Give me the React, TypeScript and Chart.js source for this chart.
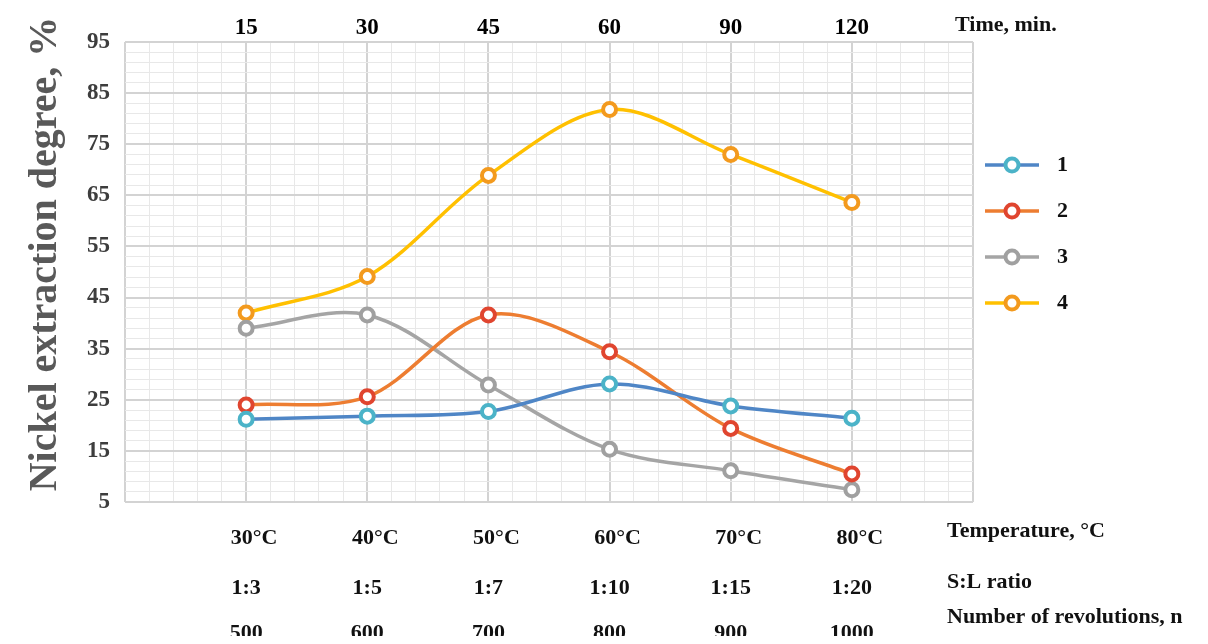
import { useEffect, useRef } from "react";
import { Chart, registerables } from "chart.js";

Chart.register(...registerables);

// Column labels shared by every series
const timeLabels = ["15", "30", "45", "60", "90", "120"];
const temperatureLabels = ["30°C", "40°C", "50°C", "60°C", "70°C", "80°C"];
const ratioLabels = ["1:3", "1:5", "1:7", "1:10", "1:15", "1:20"];
const revolutionLabels = ["500", "600", "700", "800", "900", "1000"];

// Nickel extraction degree, %
const seriesNames = ["1", "2", "3", "4"];
const series1 = [21.2, 21.8, 22.7, 28.1, 23.8, 21.4];
const series2 = [24.0, 25.6, 41.6, 34.4, 19.4, 10.5];
const series3 = [39.0, 41.6, 27.9, 15.3, 11.1, 7.4];
const series4 = [42.0, 49.1, 68.9, 81.8, 73.0, 63.6];

const lineColors = ["#4f86c6", "#ed7d31", "#a5a5a5", "#ffc000"];
const markerColors = ["#4bb3c8", "#e0452f", "#a0a0a0", "#f39a1e"];

const SERIF = "'Liberation Serif', 'Times New Roman', serif";
const POINT_RADIUS = 6.5;
const POINT_BORDER = 4;

const isWhole = (v: number) => Math.abs(v - Math.round(v)) < 1e-6;

// Extra captions: side labels, bottom rows, y title and the legend
const captionsPlugin = {
  id: "captions",
  afterDraw(chart: any) {
    const { ctx, scales } = chart;
    const xs = scales.x;
    const font = (size: number) => `bold ${size}px ${SERIF}`;
    ctx.save();

    // Y axis title
    ctx.save();
    ctx.translate(48, 246);
    ctx.rotate(-Math.PI / 2);
    ctx.font = font(40);
    ctx.fillStyle = "#595959";
    ctx.textAlign = "center";
    ctx.textBaseline = "alphabetic";
    ctx.fillText("Nickel extraction degree, %", 0, 0);
    ctx.restore();

    ctx.fillStyle = "#111";
    ctx.textBaseline = "middle";

    // Top axis caption
    ctx.font = font(22);
    ctx.textAlign = "left";
    ctx.fillText("Time, min.", 947, 17);

    // Bottom rows of condition labels
    const rows = [
      { labels: temperatureLabels, y: 530, dx: 8, caption: "Temperature, °C", cy: 523 },
      { labels: ratioLabels, y: 580, dx: 0, caption: "S:L ratio", cy: 574 },
      { labels: revolutionLabels, y: 625, dx: 0, caption: "Number of revolutions, n", cy: 609 },
    ];
    rows.forEach((row) => {
      ctx.font = font(22);
      ctx.textAlign = "center";
      row.labels.forEach((lab, i) => {
        ctx.fillText(lab, xs.getPixelForValue(i + 1) + row.dx, row.y);
      });
      ctx.font = font(22);
      ctx.textAlign = "left";
      ctx.fillText(row.caption, 939, row.cy);
    });

    // Legend
    const lx0 = 977;
    const lx1 = 1031;
    const lxm = (lx0 + lx1) / 2;
    chart.data.datasets.forEach((ds: any, i: number) => {
      const y = 157 + i * 46;
      ctx.strokeStyle = ds.borderColor;
      ctx.lineWidth = 3.5;
      ctx.beginPath();
      ctx.moveTo(lx0, y);
      ctx.lineTo(lx1, y);
      ctx.stroke();
      ctx.beginPath();
      ctx.arc(lxm, y, POINT_RADIUS, 0, Math.PI * 2);
      ctx.fillStyle = "#fff";
      ctx.fill();
      ctx.lineWidth = POINT_BORDER;
      ctx.strokeStyle = ds.pointBorderColor;
      ctx.stroke();
      ctx.fillStyle = "#111";
      ctx.font = font(22);
      ctx.textAlign = "left";
      ctx.fillText(ds.label, 1049, y);
    });

    ctx.restore();
  },
};

export default function App() {
  const canvasRef = useRef<HTMLCanvasElement | null>(null);

  useEffect(() => {
    const canvas = canvasRef.current;
    if (!canvas) return;
    const values = [series1, series2, series3, series4];

    const chart = new Chart(canvas, {
      type: "line",
      data: {
        datasets: values.map((vals, i) => ({
          label: seriesNames[i],
          data: vals.map((v, j) => ({ x: j + 1, y: v })),
          borderColor: lineColors[i],
          borderWidth: 3.5,
          tension: 0.33,
          pointRadius: POINT_RADIUS,
          pointBorderWidth: POINT_BORDER,
          pointBorderColor: markerColors[i],
          pointBackgroundColor: "#ffffff",
          fill: false,
          xAxisID: "x",
          yAxisID: "y",
        })),
      },
      options: {
        responsive: false,
        animation: false,
        events: [],
        layout: { padding: { left: 0, right: 227, top: 0, bottom: 0 } },
        plugins: {
          legend: { display: false },
          tooltip: { enabled: false },
        },
        scales: {
          x: {
            type: "linear",
            position: "bottom",
            min: 0,
            max: 7,
            ticks: { stepSize: 0.2, display: false, autoSkip: false },
            grid: {
              drawTicks: false,
              color: (c: any) => (isWhole(c.tick.value) ? "#d3d3d3" : "#e8e8e8"),
              lineWidth: (c: any) => (isWhole(c.tick.value) ? 2 : 1),
            },
            border: { display: false },
            afterFit: (s: any) => {
              s.height = 142;
            },
          },
          xTop: {
            type: "linear",
            position: "top",
            min: 0,
            max: 7,
            ticks: {
              stepSize: 1,
              autoSkip: false,
              padding: 0,
              color: "#000",
              font: { family: SERIF, weight: "bold", size: 23 },
              callback: (v: any) => timeLabels[Number(v) - 1] ?? "",
            },
            grid: { display: false, drawTicks: false },
            border: { display: false },
            afterFit: (s: any) => {
              s.height = 34;
            },
          },
          y: {
            type: "linear",
            min: 5,
            max: 95,
            ticks: {
              stepSize: 2,
              autoSkip: false,
              padding: 15,
              color: "#3d3d3d",
              font: { family: SERIF, weight: "bold", size: 23 },
              callback: (v: any) => ((Number(v) - 5) % 10 === 0 ? String(v) : ""),
            },
            grid: {
              drawTicks: false,
              color: (c: any) => ((c.tick.value - 5) % 10 === 0 ? "#d3d3d3" : "#e8e8e8"),
              lineWidth: (c: any) => ((c.tick.value - 5) % 10 === 0 ? 2 : 1),
            },
            border: { display: false },
            afterFit: (s: any) => {
              s.width = 117;
            },
          },
        },
      } as any,
      plugins: [captionsPlugin],
    });

    return () => chart.destroy();
  }, []);

  return (
    <div style={{ width: 1192, height: 636, marginBottom: -8, background: "#fff" }}>
      <canvas ref={canvasRef} width={1192} height={636} />
    </div>
  );
}
